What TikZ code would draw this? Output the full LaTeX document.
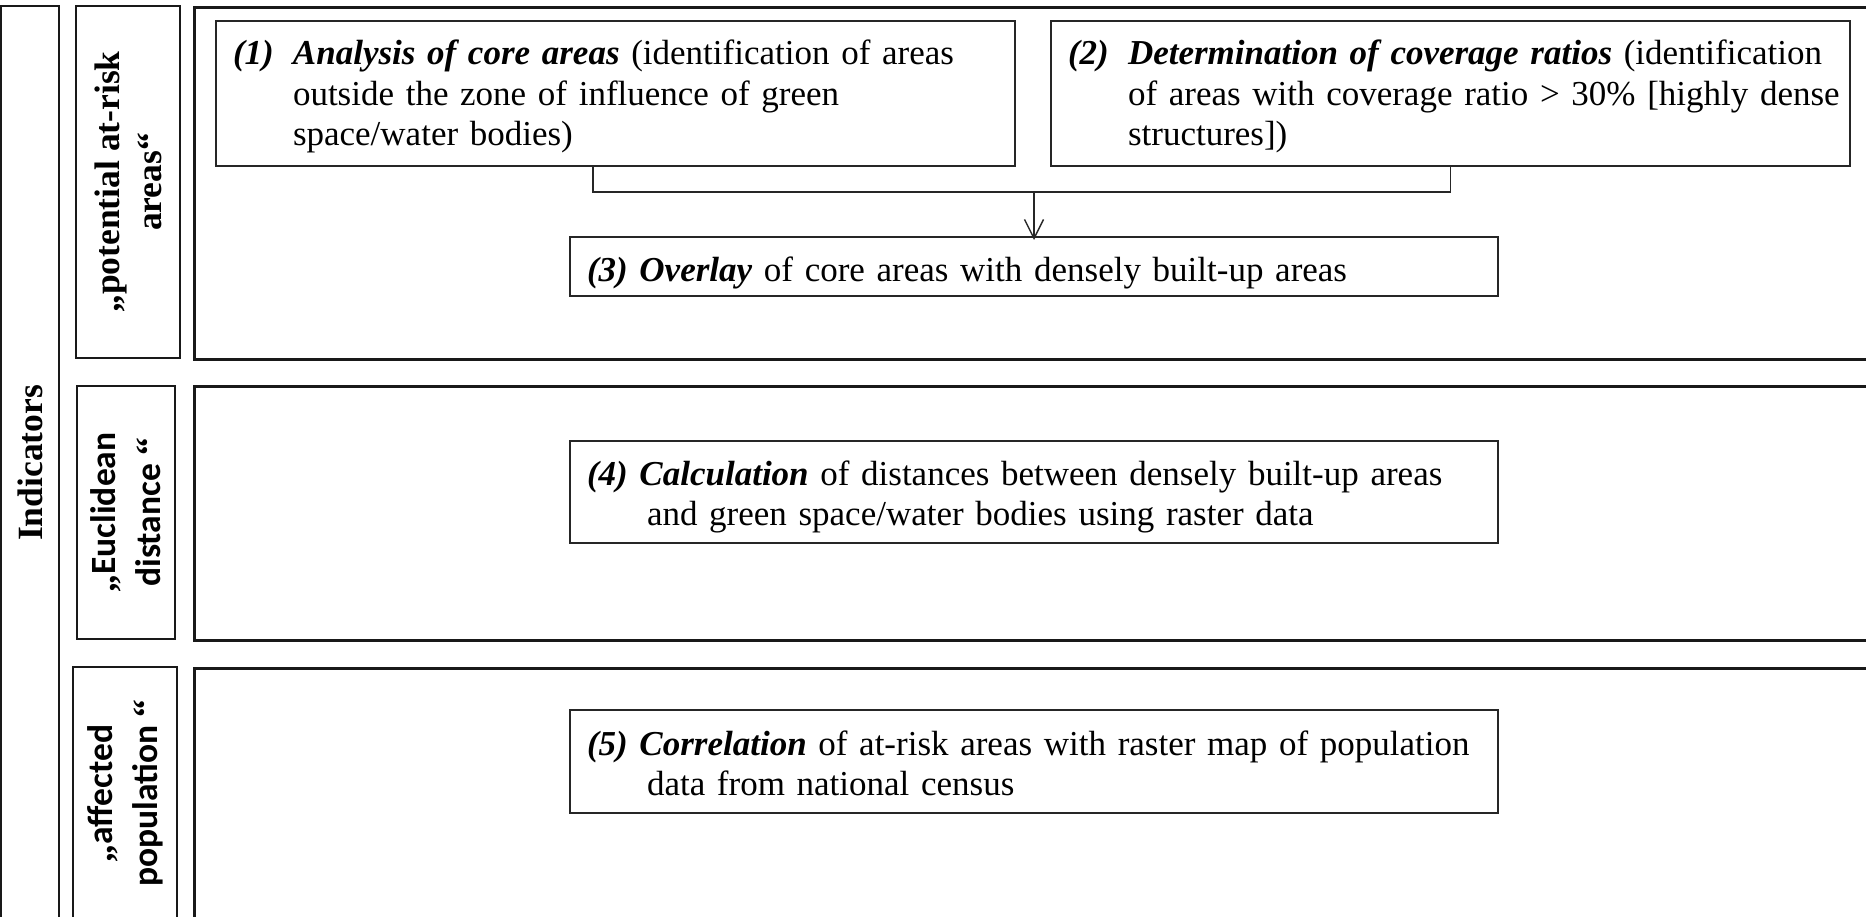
\documentclass[tikz,border=0pt]{standalone}
\usepackage{fontspec}
\setmainfont{Liberation Serif}
\newfontfamily\calibri{Carlito}
\usetikzlibrary{arrows.meta}
\tikzset{
  frame/.style={draw=black!90, line width=2.6pt},
  textbox/.style={draw=black!85, line width=2pt, align=left, inner xsep=17pt, inner ysep=0pt,
    font=\fontsize{35}{40}\selectfont},
  lbl/.style={frame, rotate=90, align=center, inner sep=0pt,
    font=\fontsize{35.5}{42}\selectfont\bfseries},
  conn/.style={draw=black!85, line width=1.4pt},
  arr/.style={-{Straight Barb[length=19pt,width=19pt,line width=1.4pt]}}
}
\newcommand{\bi}[1]{\textbf{\textit{#1}}}
\newcommand{\qo}{{\rmfamily\bfseries „}}
\newcommand{\qc}{{\rmfamily\bfseries “}}
\newcommand{\topstrut}[1]{\rule{0pt}{#1}}
\newcommand{\botstrut}[1]{\rule[-#1]{0pt}{#1}}
\begin{document}
\begin{tikzpicture}[x=1pt,y=-1pt]
\useasboundingbox (0,0) rectangle (1866,917);
\clip (0,0) rectangle (1866,917);
\fill[white] (0,0) rectangle (1866,917);
% outer indicator column
\node[lbl, minimum width=914pt, minimum height=58pt] (ind) at (30,463) {Indicators};
% label boxes
\node[lbl, minimum width=352pt, minimum height=104pt] (l1) at (128,182) {\qo potential at-risk\\areas\qc};
\node[lbl, minimum width=253pt, minimum height=98pt, font=\fontsize{35.5}{45}\selectfont\bfseries\calibri] (l2) at (126,512.5) {\qo Euclidean\\distance \qc};
\node[lbl, minimum width=253pt, minimum height=104pt, font=\fontsize{35.5}{45}\selectfont\bfseries\calibri] (l3) at (125,793.5) {\qo affected\\population \qc};
% content frames
\node[frame, anchor=north west, minimum width=1700pt, minimum height=352pt, inner sep=0pt] (c1) at (193,6) {};
\node[frame, anchor=north west, minimum width=1700pt, minimum height=254pt, inner sep=0pt] (c2) at (193,385) {};
\node[frame, anchor=north west, minimum width=1700pt, minimum height=254pt, inner sep=0pt] (c3) at (193,667) {};
% step boxes
\node[textbox, font=\fontsize{35}{40.5}\selectfont, text width=765pt, minimum height=145pt] (b1) at (615.5,93.5)
 {\mbox{\topstrut{44pt}\makebox[60pt][l]{\bi{(1)}}\bi{Analysis of core areas} (identification of areas}\\
  \mbox{\hspace*{60pt}outside the zone of influence of green}\\
  \mbox{\hspace*{60pt}space/water bodies)\botstrut{20pt}}};
\node[textbox, font=\fontsize{35}{40.5}\selectfont, text width=765pt, minimum height=145pt] (b2) at (1450.5,93.5)
 {\mbox{\topstrut{44pt}\makebox[60pt][l]{\bi{(2)}}\bi{Determination of coverage ratios} (identification}\\
  \mbox{\hspace*{60pt}of areas with coverage ratio > 30\% [highly dense}\\
  \mbox{\hspace*{60pt}structures])\botstrut{20pt}}};
\node[textbox, text width=894pt, minimum height=59pt] (b3) at (1034,266.5)
 {\mbox{\topstrut{44.5pt}\bi{(3) Overlay} of core areas with densely built-up areas\botstrut{14.5pt}}};
\node[textbox, text width=894pt, minimum height=102pt] (b4) at (1034,492)
 {\mbox{\topstrut{44pt}\bi{(4) Calculation} of distances between densely built-up areas}\\
  \mbox{\hspace*{60pt}and green space/water bodies using raster data\botstrut{18pt}}};
\node[textbox, text width=894pt, minimum height=103pt] (b5) at (1034,761.5)
 {\mbox{\topstrut{45pt}\bi{(5) Correlation} of at-risk areas with raster map of population}\\
  \mbox{\hspace*{60pt}data from national census\botstrut{18pt}}};
% connectors
\coordinate (j) at (1034,192);
\coordinate (p1) at ([xshift=-22.5pt]b1.south);
\draw[conn] (p1) -- (p1 |- j) -- (b2.south |- j) -- (b2.south);
\draw[conn, arr] (j) -- ([yshift=-4pt]b3.north);
\end{tikzpicture}
\end{document}
